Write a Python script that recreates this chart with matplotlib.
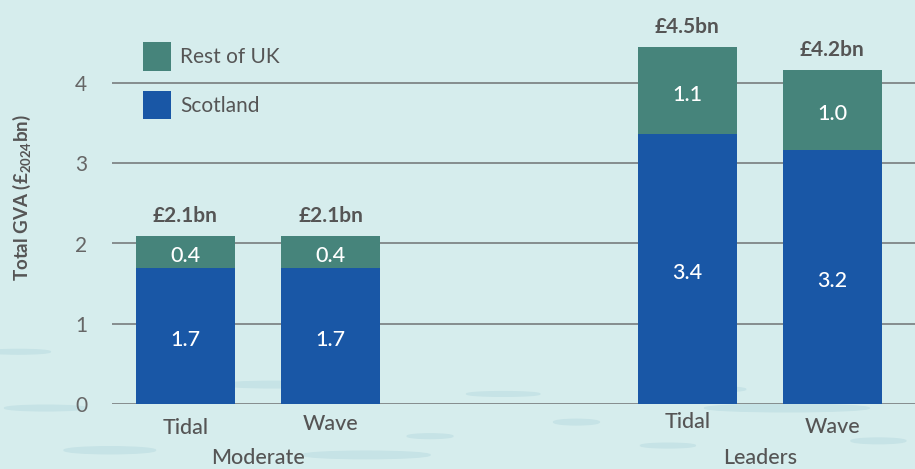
import numpy as np
import matplotlib
matplotlib.use("Agg")
import matplotlib.pyplot as plt
from matplotlib.patches import Ellipse

plt.rcParams['font.family'] = ['Lato', 'DejaVu Sans']
plt.rcParams['mathtext.fontset'] = 'custom'
plt.rcParams['mathtext.rm'] = 'Lato'
plt.rcParams['mathtext.bf'] = 'Lato:bold'

# data
groups = ['Moderate', 'Leaders']
techs = ['Tidal', 'Wave']
scotland = [1.70, 1.69, 3.36, 3.16]
rest_uk = [0.39, 0.40, 1.09, 1.00]
scot_labels = ['1.7', '1.7', '3.4', '3.2']
rest_labels = ['0.4', '0.4', '1.1', '1.0']
total_labels = ['£2.1bn', '£2.1bn', '£4.5bn', '£4.2bn']

bg = '#d6eded'
c_scot = '#1957a6'
c_rest = '#46847b'
grey = '#555555'

fig = plt.figure(figsize=(9.15, 4.69), dpi=100, facecolor=bg)

# faint water ripples in the background (decoration only)
ripples = [(0.05, 0.13, 0.09, 0.012), (0.30, 0.18, 0.12, 0.014), (0.55, 0.16, 0.08, 0.01),
           (0.12, 0.04, 0.10, 0.015), (0.40, 0.03, 0.14, 0.016), (0.63, 0.10, 0.05, 0.012),
           (0.78, 0.17, 0.07, 0.011), (0.86, 0.13, 0.18, 0.016), (0.96, 0.06, 0.06, 0.012),
           (0.73, 0.05, 0.06, 0.01), (0.20, 0.21, 0.05, 0.009), (0.47, 0.07, 0.05, 0.01),
           (0.02, 0.25, 0.07, 0.01), (0.91, 0.22, 0.04, 0.01)]
for cx, cy, ew, eh in ripples:
    fig.patches.append(Ellipse((cx, cy), ew, eh, transform=fig.transFigure,
                               color='#c6e3e6', zorder=-5))

ax = fig.add_axes([112/915, 65/469, 803/915, (404 - 34.85)/469])
ax.set_zorder(2)
ax.patch.set_alpha(0)

group_gap = 3.46
x = np.array([g * group_gap + i for g in range(len(groups)) for i in range(len(techs))])
w = 0.683

b1 = ax.bar(x, scotland, w, color=c_scot, label='Scotland', zorder=3)
b2 = ax.bar(x, rest_uk, w, bottom=scotland, color=c_rest, label='Rest of UK', zorder=3)

ax.bar_label(b1, labels=scot_labels, label_type='center', color='white',
             fontsize=15.5, fontweight='medium', padding=-3)
ax.bar_label(b2, labels=rest_labels, label_type='center', color='white',
             fontsize=15.5, fontweight='medium', padding=-3)

tops = np.array(scotland) + np.array(rest_uk)
for xi, t, lab in zip(x, tops, total_labels):
    ax.annotate(lab, (xi, t), xytext=(0, 14.5), textcoords='offset points',
                ha='center', va='center', fontsize=15, fontweight='bold', color=grey)

ax.set_xlim(-0.507, 5.029)
ax.set_ylim(0, 4.6)
ax.set_yticks([0, 1, 2, 3, 4])
ax.grid(axis='y', color='#787d7e', linewidth=1.2, zorder=0)
ax.tick_params(axis='y', length=0, labelsize=15, labelcolor='#666666', pad=18)
ax.set_xticks([])
for s in ax.spines.values():
    s.set_visible(False)

# category labels (slight vertical jitter like the original)
cat_offsets = [-24, -20, -18, -23]
for i, xi in enumerate(x):
    ax.annotate(techs[i % len(techs)], (xi, 0), xytext=(0, cat_offsets[i] * 0.72),
                textcoords='offset points', ha='center', va='center',
                fontsize=15.5, fontweight='medium', color=grey, annotation_clip=False)
for g, name in enumerate(groups):
    gx = g * group_gap + (len(techs) - 1) / 2
    ax.annotate(name, (gx, 0), xytext=(0, -63.5 * 0.72), textcoords='offset points',
                ha='center', va='bottom', fontsize=15.5, fontweight='medium',
                color=grey, annotation_clip=False)

ax.set_ylabel('Total GVA (£$_{\\mathregular{2024}}$bn)', fontsize=13.5,
              fontweight='bold', color=grey)
ax.yaxis.set_label_coords(-0.098, 0.56)

handles, labels = ax.get_legend_handles_labels()
leg = ax.legend(handles[::-1], labels[::-1], loc='upper left',
                bbox_to_anchor=(143/915, 1 - 42/469), bbox_transform=fig.transFigure,
                frameon=False, fontsize=15, handlelength=1.35, handleheight=1.75,
                labelspacing=0.95, handletextpad=0.42, borderpad=0, borderaxespad=0)
for t in leg.get_texts():
    t.set_color(grey)

fig.savefig('out.png', dpi=100, facecolor=bg)
